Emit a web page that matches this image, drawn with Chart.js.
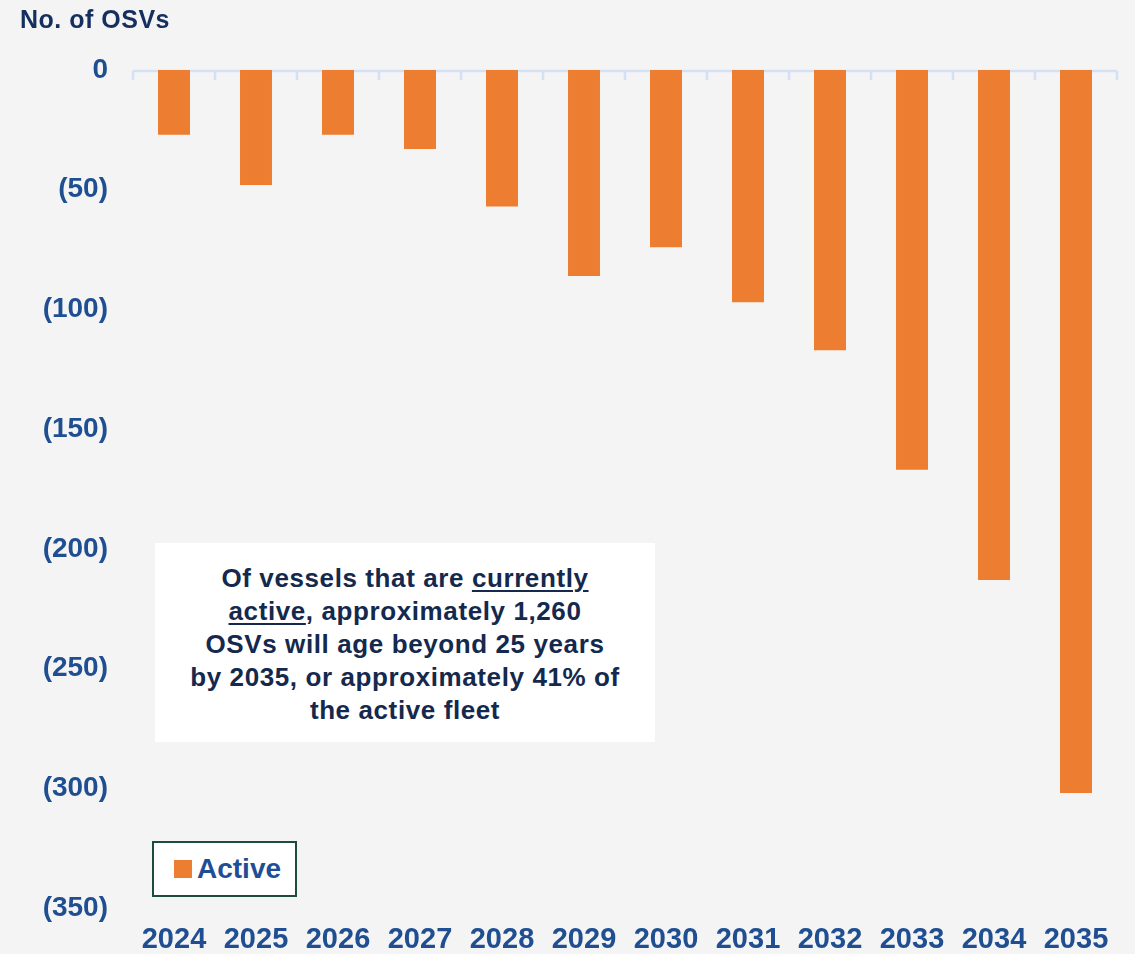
<!DOCTYPE html>
<html>
<head>
<meta charset="utf-8">
<title>OSVs ageing beyond 25 years</title>
<script src="https://cdn.jsdelivr.net/npm/chart.js@4/dist/chart.umd.min.js"></script>
<style>
  html, body { margin: 0; padding: 0; background: #f4f4f4; }
  #wrap { position: relative; width: 1135px; height: 954px; overflow: hidden; }
  canvas { position: absolute; left: 0; top: 0; }
  .note {
    position: absolute; left: 155px; top: 543px; width: 500px; height: 199px;
    background: #ffffff; display: flex; align-items: center; justify-content: center;
    text-align: center; font-family: "Liberation Sans", Arial, sans-serif; font-weight: bold;
    font-size: 26px; letter-spacing: 0.6px; line-height: 33px; color: #14294d; box-sizing: border-box; padding-top: 3px;
  }
  .note u { text-decoration-thickness: 2px; text-underline-offset: 3px; }
  .legend {
    position: absolute; left: 152px; top: 841px; width: 145px; height: 56px;
    background: #ffffff; border: 2px solid #1e4a40; box-sizing: border-box;
    display: flex; align-items: center; padding-left: 20px;
    font-family: "Liberation Sans", Arial, sans-serif; font-weight: bold; font-size: 28px; color: #1f4e96;
  }
  .legend .swatch { width: 18px; height: 18px; background: #ed7d31; margin-right: 5px; }
</style>
</head>
<body>
<div id="wrap">
  <canvas id="chart" width="1135" height="954"></canvas>
  <div class="note"><div>Of vessels that are <u>currently</u><br><u>active</u>, approximately 1,260<br>OSVs will age beyond 25 years<br>by 2035, or approximately 41% of<br>the active fleet</div></div>
  <div class="legend"><span class="swatch"></span><span>Active</span></div>
</div>
<script>
// Years on the category axis
const years = ['2024', '2025', '2026', '2027', '2028', '2029', '2030', '2031', '2032', '2033', '2034', '2035'];
// Active OSVs reaching 25 years of age in each year (shown as negatives)
const activeValues = [-27, -48, -27, -33, -57, -86, -74, -97, -117, -167, -213, -302];
// Value-axis tick positions
const yTickValues = [0, -50, -100, -150, -200, -250, -300, -350];

const axisBlue = '#1f4e91';
const yFont = { family: '"Liberation Sans", Arial, sans-serif', size: 28, weight: 'bold' };
const xFont = { family: '"Liberation Sans", Arial, sans-serif', size: 29, weight: 'bold' };

// Zero baseline with category boundary tick marks
const zeroLine = {
  id: 'zeroLine',
  beforeDatasetsDraw(chart) {
    const { ctx, chartArea, scales } = chart;
    const x = scales.x, y = scales.y;
    const y0 = y.getPixelForValue(0) + 1;
    const step = x.getPixelForTick(1) - x.getPixelForTick(0);
    ctx.save();
    ctx.strokeStyle = '#d4e1f5';
    ctx.lineWidth = 2.5;
    ctx.beginPath();
    ctx.moveTo(chartArea.left, y0);
    ctx.lineTo(chartArea.right, y0);
    for (let i = 0; i <= years.length; i++) {
      const bx = x.getPixelForTick(0) - step / 2 + i * step;
      ctx.moveTo(bx, y0);
      ctx.lineTo(bx, y0 + 9);
    }
    ctx.stroke();
    ctx.restore();
  }
};

// Axis caption in the top-left corner
const caption = {
  id: 'caption',
  afterDraw(chart) {
    const ctx = chart.ctx;
    ctx.save();
    ctx.font = 'bold 25px "Liberation Sans", Arial, sans-serif';
    if ('letterSpacing' in ctx) ctx.letterSpacing = '0.5px';
    ctx.fillStyle = '#15305f';
    ctx.textBaseline = 'middle';
    ctx.textAlign = 'left';
    ctx.fillText('No. of OSVs', 20, 21);
    ctx.restore();
  }
};

new Chart(document.getElementById('chart'), {
  type: 'bar',
  data: {
    labels: years,
    datasets: [{
      label: 'Active',
      data: activeValues,
      backgroundColor: '#ed7d31',
      borderWidth: 0,
      barPercentage: 0.39,
      categoryPercentage: 1.0
    }]
  },
  options: {
    responsive: false,
    animation: false,
    devicePixelRatio: 1,
    layout: { padding: { top: 70, right: 18, left: 0, bottom: 0 } },
    plugins: { legend: { display: false }, tooltip: { enabled: false }, title: { display: false } },
    scales: {
      x: {
        grid: { display: false, drawTicks: false },
        border: { display: false },
        ticks: { color: axisBlue, font: xFont, padding: 15, maxRotation: 0, autoSkip: false },
        afterFit(scale) { scale.height = 46; }
      },
      y: {
        min: -350,
        max: 0,
        grid: { display: false, drawTicks: false },
        border: { display: false },
        afterBuildTicks(scale) { scale.ticks = yTickValues.map(v => ({ value: v })); },
        ticks: {
          color: axisBlue,
          font: yFont,
          padding: 25,
          callback: v => (v === 0 ? '0' : '(' + Math.abs(v) + ')')
        },
        afterFit(scale) { scale.width = 133; }
      }
    }
  },
  plugins: [zeroLine, caption]
});
</script>
</body>
</html>
